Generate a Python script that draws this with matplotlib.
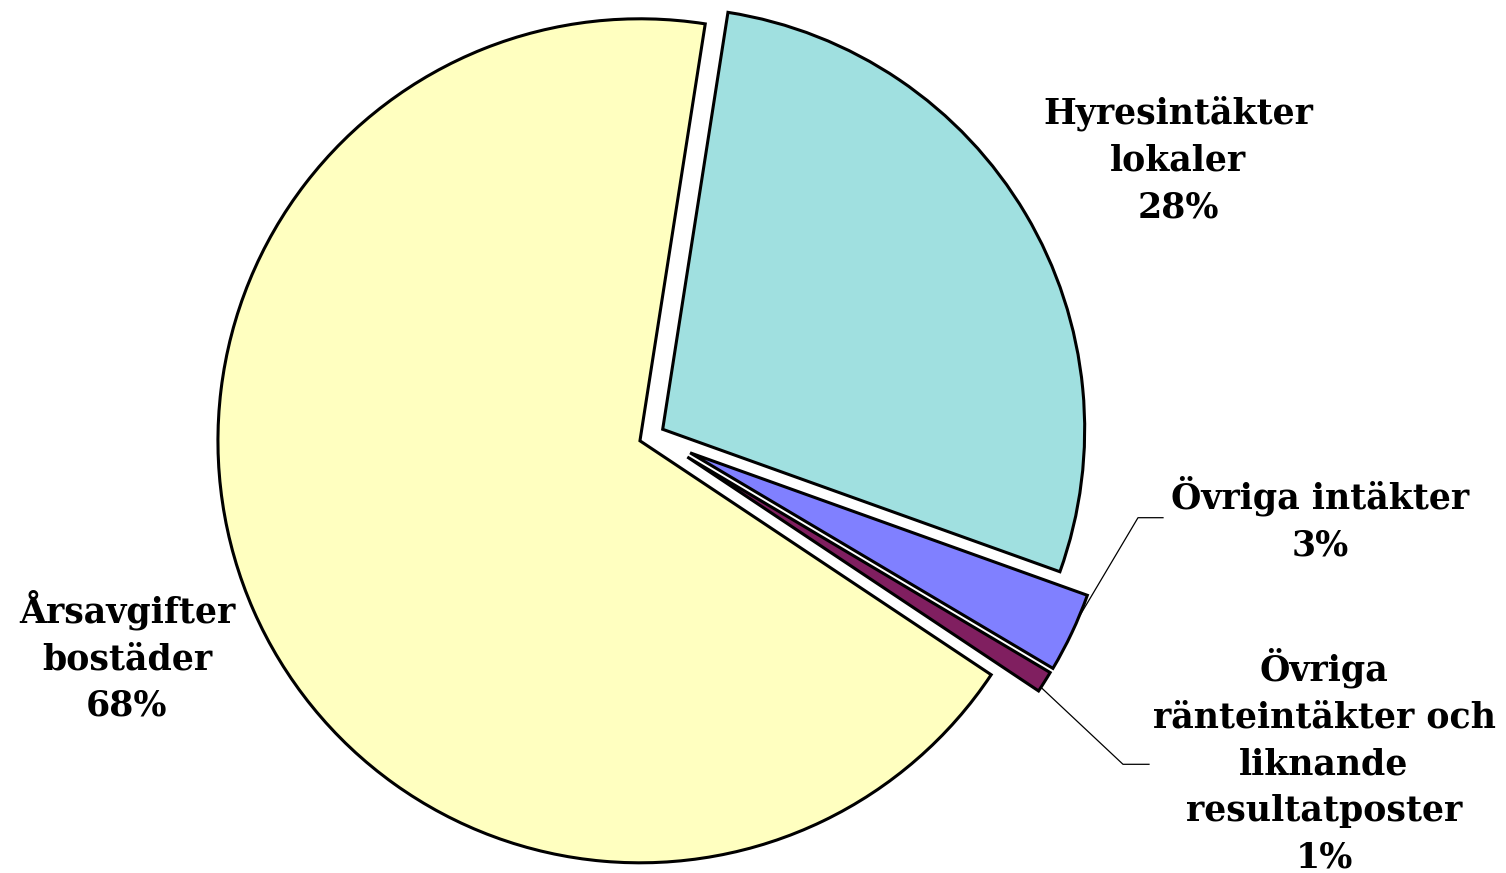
import numpy as np
import matplotlib
matplotlib.use("Agg")
import matplotlib.pyplot as plt

# Data
categories = ["Hyresintäkter\nlokaler", "Övriga intäkter",
              "Övriga\nränteintäkter och\nliknande\nresultatposter", "Årsavgifter\nbostäder"]
values = [28.0, 3.05, 0.82, 68.1]
pct_labels = ["28%", "3%", "1%", "68%"]
colors = ["#A0E0E0", "#8080FF", "#801F60", "#FFFFC0"]
explode = [0.0275, 0.098, 0.097, 0.033]

W, H = 1506, 873
CX, CY, R = 652.7, 435.2, 422.0  # pixel center / radius of pie

fig = plt.figure(figsize=(W / 100, H / 100), dpi=100)
ax = fig.add_axes([0, 0, 1, 1])


def px(x, y):
    return (x - CX) / R, (CY - y) / R


wedges, _ = ax.pie(values, colors=colors, explode=explode, startangle=81.1,
                   counterclock=False, radius=1.0,
                   wedgeprops=dict(edgecolor="black", linewidth=2.2))

ax.set_xlim(-CX / R, (W - CX) / R)
ax.set_ylim(-(H - CY) / R, CY / R)
ax.set_aspect("equal")
ax.axis("off")

font = dict(family="DejaVu Serif", fontweight="bold", fontsize=25,
            ha="center", va="center", linespacing=1.47, color="black")

label_pos = [(1178, 160), (1320, 519), (1324, 761), (127, 656)]
for cat, pct, (lx, ly) in zip(categories, pct_labels, label_pos):
    ax.text(*px(lx, ly), cat + "\n" + pct, **font)

# leader lines for the small slices
def arc_point(w, frac=0.5):
    th = np.deg2rad(w.theta1 + (w.theta2 - w.theta1) * frac)
    cx, cy = w.center
    return cx + w.r * np.cos(th), cy + w.r * np.sin(th)

p0 = arc_point(wedges[1], 0.7)
e1 = px(1138, 517.7)
e2 = px(1163, 517.7)
ax.plot([p0[0], e1[0], e2[0]], [p0[1], e1[1], e2[1]], color="black", lw=0.9)

p1 = arc_point(wedges[2], 0.2)
f1 = px(1123, 764.3)
f2 = px(1149, 764.3)
ax.plot([p1[0], f1[0], f2[0]], [p1[1], f1[1], f2[1]], color="black", lw=0.9)

fig.savefig("out.png", dpi=100, facecolor="white")
